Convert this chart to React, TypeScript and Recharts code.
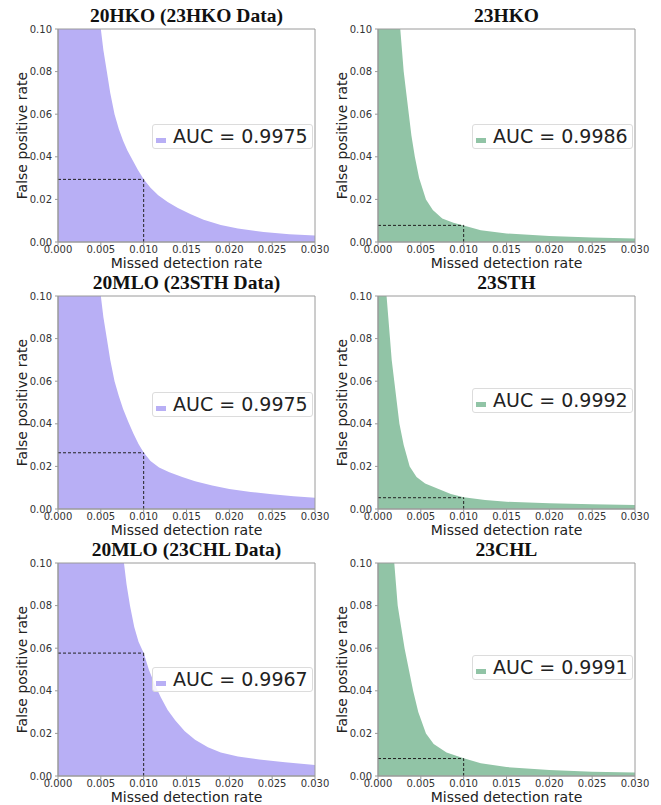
import React from "react";
import {
  ComposedChart,
  Area,
  XAxis,
  YAxis,
  ReferenceLine,
  ReferenceArea,
  Legend,
} from "recharts";

// ---- data (missed detection rate -> false positive rate) ----
const hko20Mdr = [0, 0.005, 0.0053, 0.0057, 0.0061, 0.0066, 0.0071, 0.0076, 0.0081, 0.0087, 0.0093, 0.01, 0.0108, 0.0117, 0.0128, 0.014, 0.0155, 0.017, 0.019, 0.021, 0.024, 0.027, 0.03];
const hko20Fpr = [0.1, 0.1, 0.09, 0.08, 0.07, 0.06, 0.053, 0.0475, 0.043, 0.0385, 0.034, 0.0295, 0.0255, 0.022, 0.0188, 0.016, 0.013, 0.0105, 0.008, 0.0063, 0.0047, 0.0036, 0.003];

const hko23Mdr = [0, 0.0026, 0.0028, 0.003, 0.0033, 0.0036, 0.0039, 0.0043, 0.0048, 0.0056, 0.0064, 0.0075, 0.0088, 0.01, 0.012, 0.015, 0.02, 0.025, 0.03];
const hko23Fpr = [0.1, 0.1, 0.09, 0.08, 0.07, 0.06, 0.05, 0.04, 0.03, 0.02, 0.015, 0.011, 0.009, 0.0078, 0.0055, 0.004, 0.0028, 0.0021, 0.0016];

const mloSthMdr = [0, 0.005, 0.0053, 0.0057, 0.0061, 0.0066, 0.0071, 0.0076, 0.0082, 0.0088, 0.0094, 0.01, 0.0108, 0.0118, 0.013, 0.0145, 0.016, 0.018, 0.02, 0.0225, 0.025, 0.0275, 0.03];
const mloSthFpr = [0.1, 0.1, 0.09, 0.08, 0.07, 0.06, 0.053, 0.047, 0.041, 0.0355, 0.0305, 0.0265, 0.0225, 0.0195, 0.0172, 0.015, 0.013, 0.011, 0.0094, 0.008, 0.0069, 0.006, 0.0053];

const sth23Mdr = [0, 0.001, 0.0012, 0.0014, 0.0016, 0.0019, 0.0022, 0.0025, 0.003, 0.0037, 0.0045, 0.0055, 0.007, 0.0085, 0.01, 0.0125, 0.015, 0.02, 0.025, 0.03];
const sth23Fpr = [0.1, 0.1, 0.09, 0.08, 0.07, 0.06, 0.05, 0.04, 0.03, 0.02, 0.015, 0.012, 0.0095, 0.007, 0.0055, 0.0042, 0.0034, 0.0027, 0.0022, 0.0019];

const mloChlMdr = [0, 0.0077, 0.008, 0.0084, 0.0089, 0.0094, 0.01, 0.0106, 0.0113, 0.012, 0.0128, 0.0137, 0.0148, 0.016, 0.0175, 0.019, 0.021, 0.0235, 0.0265, 0.03];
const mloChlFpr = [0.1, 0.1, 0.09, 0.08, 0.07, 0.063, 0.0577, 0.05, 0.043, 0.037, 0.031, 0.026, 0.021, 0.017, 0.0135, 0.011, 0.0092, 0.0077, 0.0064, 0.0052];

const chl23Mdr = [0, 0.0019, 0.0021, 0.0023, 0.0027, 0.0031, 0.0036, 0.0041, 0.0047, 0.0056, 0.0065, 0.008, 0.01, 0.012, 0.015, 0.02, 0.025, 0.03];
const chl23Fpr = [0.1, 0.1, 0.09, 0.08, 0.07, 0.06, 0.05, 0.04, 0.03, 0.02, 0.015, 0.011, 0.0083, 0.006, 0.0042, 0.0028, 0.002, 0.0016];

const titles = [
  "20HKO (23HKO Data)",
  "23HKO",
  "20MLO (23STH Data)",
  "23STH",
  "20MLO (23CHL Data)",
  "23CHL",
];
const aucValues = ["0.9975", "0.9986", "0.9975", "0.9992", "0.9967", "0.9991"];
const operatingFpr = [0.0294, 0.0078, 0.0264, 0.0053, 0.0577, 0.0082];
const operatingMdr = 0.01;

const xTicks = [0, 0.005, 0.01, 0.015, 0.02, 0.025, 0.03];
const yTicks = [0, 0.02, 0.04, 0.06, 0.08, 0.1];

const PURPLE = "#b8aff5";
const GREEN = "#91c4a6";

const series = [
  { mdr: hko20Mdr, fpr: hko20Fpr, color: PURPLE },
  { mdr: hko23Mdr, fpr: hko23Fpr, color: GREEN },
  { mdr: mloSthMdr, fpr: mloSthFpr, color: PURPLE },
  { mdr: sth23Mdr, fpr: sth23Fpr, color: GREEN },
  { mdr: mloChlMdr, fpr: mloChlFpr, color: PURPLE },
  { mdr: chl23Mdr, fpr: chl23Fpr, color: GREEN },
];

// layout
const CHART_W = 330;
const CHART_H = 272;
const colLeft = [0, 320];
const rowTop = [0, 267, 534];
const legendTop = [124, 124, 125, 121, 133, 121];
const legendLeft = [152, 152, 152, 152, 152, 152];

const SANS = "'DejaVu Sans', sans-serif";
const SERIF = "'Liberation Serif', 'Times New Roman', serif";
const FRAME = "#9a9a9a";

function Panel({ idx }: { idx: number }) {
  const s = series[idx];
  const data = s.mdr.map((m, i) => ({ mdr: m, fpr: s.fpr[i] }));
  const col = idx % 2;
  const row = Math.floor(idx / 2);
  const op = operatingFpr[idx];
  return (
    <div
      style={{
        position: "absolute",
        left: colLeft[col],
        top: rowTop[row],
        width: CHART_W,
        height: CHART_H,
      }}
    >
      <div
        style={{
          position: "absolute",
          left: 58,
          width: 257,
          top: 4,
          textAlign: "center",
          fontFamily: SERIF,
          fontWeight: "bold",
          fontSize: 19.5,
          lineHeight: "24px",
          color: "#111",
          whiteSpace: "nowrap",
        }}
      >
        {titles[idx]}
      </div>
      <ComposedChart
        width={CHART_W}
        height={CHART_H}
        data={data}
        margin={{ top: 29, right: 15, left: 18, bottom: 5 }}
        style={{ position: "absolute", left: 0, top: 0 }}
      >
        <XAxis
          dataKey="mdr"
          type="number"
          domain={[0, 0.03]}
          ticks={xTicks}
          tickFormatter={(v: number) => v.toFixed(3)}
          height={25}
          tickSize={3}
          tickMargin={1}
          stroke={FRAME}
          tick={{ fill: "#333", fontSize: 10, fontFamily: SANS }}
          allowDataOverflow
          label={{
            content: (props: any) => {
              const vb = props.viewBox || {};
              return (
                <text
                  x={vb.x + vb.width / 2}
                  y={vb.y + 26}
                  textAnchor="middle"
                  fontFamily={SANS}
                  fontSize={14}
                  fill="#222"
                >
                  Missed detection rate
                </text>
              );
            },
          }}
        />
        <YAxis
          type="number"
          domain={[0, 0.1]}
          ticks={yTicks}
          tickFormatter={(v: number) => v.toFixed(2)}
          width={40}
          tickSize={3}
          tickMargin={3}
          stroke={FRAME}
          tick={{ fill: "#333", fontSize: 10, fontFamily: SANS }}
          allowDataOverflow
          label={{
            content: (props: any) => {
              const vb = props.viewBox || {};
              const cx = 22;
              const cy = vb.y + vb.height / 2;
              return (
                <text
                  x={cx}
                  y={cy}
                  transform={`rotate(-90, ${cx}, ${cy})`}
                  textAnchor="middle"
                  dominantBaseline="central"
                  fontFamily={SANS}
                  fontSize={14}
                  fill="#222"
                >
                  False positive rate
                </text>
              );
            },
          }}
        />
        <Area
          type="linear"
          dataKey="fpr"
          stroke="none"
          fill={s.color}
          fillOpacity={1}
          isAnimationActive={false}
          name={`AUC = ${aucValues[idx]}`}
        />
        <ReferenceLine
          segment={[
            { x: 0, y: op },
            { x: operatingMdr, y: op },
          ]}
          stroke="#222"
          strokeWidth={1}
          strokeDasharray="3 2"
        />
        <ReferenceLine
          segment={[
            { x: operatingMdr, y: 0 },
            { x: operatingMdr, y: op },
          ]}
          stroke="#222"
          strokeWidth={1}
          strokeDasharray="3 2"
        />
        <ReferenceArea
          x1={0}
          x2={0.03}
          y1={0}
          y2={0.1}
          fill="none"
          stroke={FRAME}
          strokeWidth={1}
        />
        <Legend
          layout="horizontal"
          align="center"
          verticalAlign="middle"
          wrapperStyle={{
            left: legendLeft[idx],
            top: legendTop[idx],
            width: 161,
            height: 25,
            right: "auto",
            bottom: "auto",
          }}
          content={() => (
            <div
              style={{
                position: "relative",
                width: 161,
                height: 25,
                boxSizing: "border-box",
                border: "1px solid #dcdcdc",
                borderRadius: 3,
                background: "rgba(255,255,255,0.85)",
              }}
            >
              <div
                style={{
                  position: "absolute",
                  left: 3,
                  top: 13,
                  width: 10,
                  height: 5,
                  background: s.color,
                }}
              />
              <div
                style={{
                  position: "absolute",
                  left: 20,
                  top: 0,
                  lineHeight: "23px",
                  fontFamily: SANS,
                  fontSize: 19,
                  color: "#222",
                  whiteSpace: "nowrap",
                }}
              >
                {`AUC = ${aucValues[idx]}`}
              </div>
            </div>
          )}
        />
      </ComposedChart>
    </div>
  );
}

export default function App() {
  return (
    <div
      style={{
        position: "absolute",
        left: 0,
        top: 0,
        width: 661,
        height: 805,
        overflow: "hidden",
        background: "#fff",
      }}
    >
      {titles.map((_, i) => (
        <Panel key={i} idx={i} />
      ))}
    </div>
  );
}
